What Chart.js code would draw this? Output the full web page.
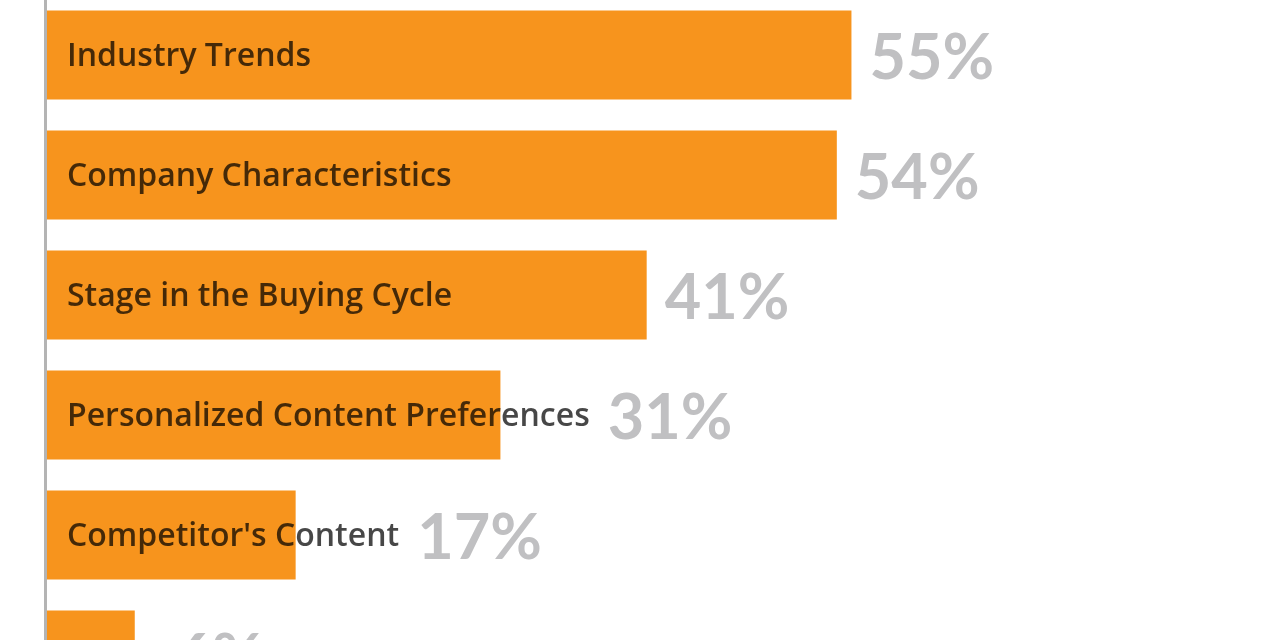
<!DOCTYPE html>
<html>
<head>
<meta charset="utf-8">
<script src="https://cdn.jsdelivr.net/npm/chart.js@4.4.0/dist/chart.umd.min.js"></script>
<style>
  html, body { margin: 0; padding: 0; background: #fff; overflow: hidden; }
  #wrap { position: absolute; left: 0; top: -5px; width: 1280px; height: 720px; }
</style>
</head>
<body>
<div id="wrap"><canvas id="chart"></canvas></div>
<script>
// data
const categories = [
  'Industry Trends',
  'Company Characteristics',
  'Stage in the Buying Cycle',
  'Personalized Content Preferences',
  "Competitor's Content",
  'Other'
];
const values = [55, 54, 41, 31, 17, 6];

const orange = '#f7941d';

// draws the left axis line, the labels inside bars and the grey values
const barLabels = {
  id: 'barLabels',
  afterDatasetsDraw(chart) {
    const ctx = chart.ctx;
    const area = chart.chartArea;
    ctx.save();
    ctx.strokeStyle = '#b4b4b4';
    ctx.lineWidth = 3;
    ctx.beginPath();
    ctx.moveTo(area.left - 1.5, 0);
    ctx.lineTo(area.left - 1.5, chart.height);
    ctx.stroke();

    const meta = chart.getDatasetMeta(0);
    meta.data.forEach((bar, i) => {
      ctx.font = '600 32px "Open Sans"';
      ctx.textBaseline = 'middle';
      ctx.textAlign = 'left';
      ctx.fillStyle = 'rgba(0,0,0,0.72)';
      const tx = area.left + 20;
      ctx.fillText(categories[i], tx, bar.y + 2);
      const textEnd = tx + ctx.measureText(categories[i]).width;

      ctx.font = 'bold 63px Lato';
      ctx.fillStyle = '#c0c0c2';
      const vx = Math.max(bar.x, textEnd) + 18;
      ctx.fillText(values[i] + '%', vx, bar.y + 4);
    });
    ctx.restore();
  }
};

new Chart(document.getElementById('chart'), {
  type: 'bar',
  data: {
    labels: categories,
    datasets: [{
      data: values,
      backgroundColor: orange,
      borderWidth: 0,
      categoryPercentage: 0.74,
      barPercentage: 1
    }]
  },
  options: {
    indexAxis: 'y',
    responsive: true,
    maintainAspectRatio: false,
    animation: false,
    layout: { padding: { left: 47, right: 0, top: 0, bottom: 0 } },
    plugins: { legend: { display: false }, tooltip: { enabled: false } },
    scales: {
      x: { display: false, min: 0, max: 84.3 },
      y: { display: false }
    }
  },
  plugins: [barLabels]
});
</script>
</body>
</html>
